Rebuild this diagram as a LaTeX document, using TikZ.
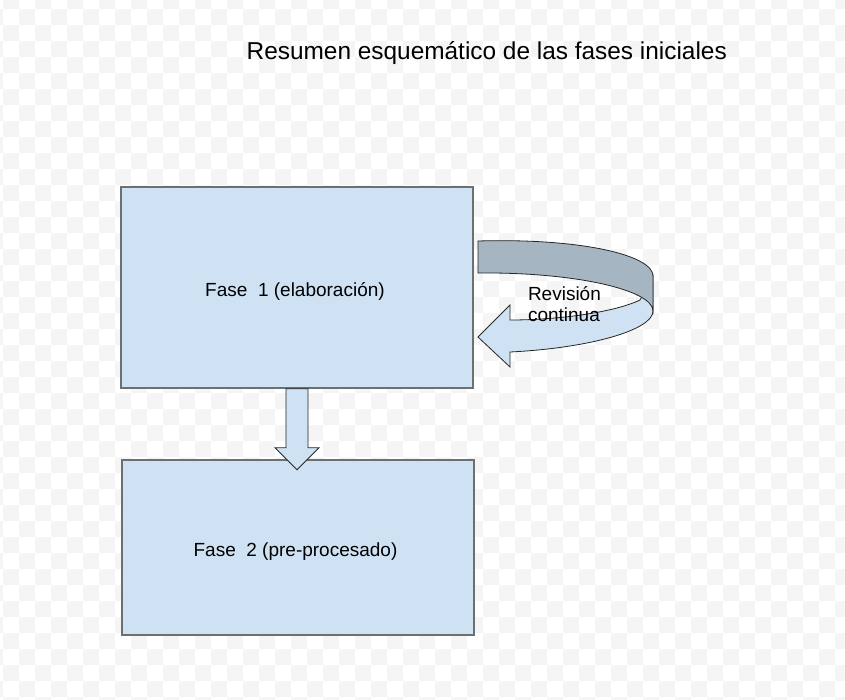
\documentclass[tikz,border=0pt]{standalone}
\usepackage{fontspec}
\setmainfont{Liberation Sans}
\usetikzlibrary{calc}
\definecolor{boxfill}{RGB}{207,226,243}
\definecolor{bandgray}{RGB}{166,181,194}
\definecolor{boxline}{RGB}{108,111,115}
\definecolor{checker}{RGB}{245,245,245}
\begin{document}
\begin{tikzpicture}[x=1pt,y=-1pt,
  phasebox/.style={draw=boxline, line width=1.6pt, fill=boxfill, inner sep=0pt, minimum width=352pt},
  phaselabel/.style={font=\fontsize{19}{23}\selectfont, inner sep=0pt, anchor=base},
  titlelabel/.style={font=\fontsize{24.4}{29}\selectfont, inner sep=0pt, anchor=base west},
  notelabel/.style={font=\fontsize{19}{21}\selectfont, inner sep=0pt, anchor=base west},
  blockarrow/.style={draw=black!85, line width=0.8pt, fill=boxfill, line join=miter},
  ribbonfront/.style={draw=black!85, line width=0.8pt, fill=boxfill, line join=miter},
  ribbonback/.style={draw=black!85, line width=0.8pt, fill=bandgray, line join=miter}]
\useasboundingbox (0,0) rectangle (845,699);
% background checkerboard
\begin{scope}
\clip (0,0) rectangle (845,699);
\foreach \j in {0,...,44} {
  \pgfmathtruncatemacro\s{mod(\j,2)}
  \foreach \i in {0,...,27} {
    \fill[checker] ({2.7+32*\i-16*\s},{-6.7+16*\j}) rectangle ++(16,16);
  }
}
\end{scope}
% title
\node[titlelabel] (title) at (246.5,59.3) {Resumen esquemático de las fases iniciales};
% phase boxes
\node[phasebox, minimum height=201pt] (f1) at (297,287.5) {};
\node[phasebox, minimum height=175pt] (f2) at (298,547.5) {};
\node[phaselabel] (t1) at (295,296) {Fase~~1 (elaboración)};
\node[phaselabel] (t2) at (295.5,556) {Fase~~2 (pre-procesado)};
% down block arrow from f1 to f2
\draw[blockarrow] ($(f1.south)+(-11,0)$) -- ++(0,59) -- ++(-11,0)
  -- ($(f1.south)+(0,81)$) -- ($(f1.south)+(22,59)$) -- ++(-11,0)
  -- ($(f1.south)+(11,0)$) -- cycle;
% circular revision arrow
\draw[ribbonfront] (653,276) -- (653,311)
  .. controls (653,330) and (590,348) .. (510,352)
  -- (510,367) -- (478,337) -- (510,305) -- (510,320)
  .. controls (560,320) and (615,312) .. (640,300) -- cycle;
\draw[ribbonback] (478,241) .. controls (580,238) and (653,255) .. (653,276)
  -- (653,311) .. controls (653,290) and (575,272) .. (478,273) -- cycle;
\node[notelabel] (rev1) at (527.8,300.7) {Revisión};
\node[notelabel] (rev2) at (527.8,321.7) {continua};
\end{tikzpicture}
\end{document}
